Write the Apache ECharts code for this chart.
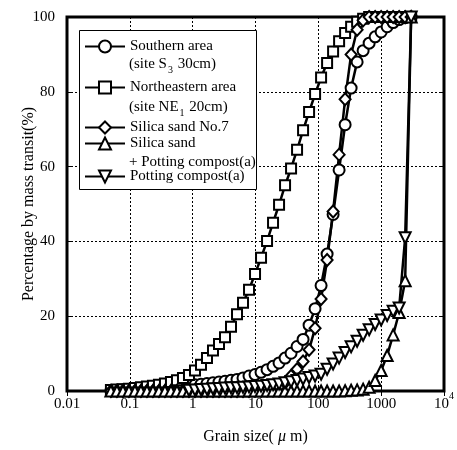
<!DOCTYPE html>
<html>
<head>
<meta charset="utf-8">
<script src="https://cdn.jsdelivr.net/npm/echarts@6/dist/echarts.min.js"></script>
<style>
  html, body { margin: 0; padding: 0; background: #fff; }
  #main { width: 457px; height: 450px; }
</style>
</head>
<body>
<div id="main"></div>
<script>
// grain size bins (µm)
const sizes = [0.050, 0.0623, 0.0777, 0.0968, 0.1206, 0.1502, 0.1873, 0.2333, 0.2907, 0.3623,
  0.4514, 0.5626, 0.7011, 0.8736, 1.089, 1.357, 1.690, 2.106, 2.625, 3.271,
  4.076, 5.080, 6.330, 7.888, 9.831, 12.25, 15.27, 19.02, 23.71, 29.54,
  36.81, 45.87, 57.17, 71.24, 88.77, 110.6, 137.9, 171.8, 214.1, 266.8,
  332.5, 414.3, 516.3, 643.4, 801.8, 999.0, 1245, 1551, 1933, 2409, 3000]

// percentage passing (%)
const southern = [0.1, 0.2, 0.3, 0.4, 0.5, 0.6, 0.7, 0.8, 0.9, 1.0,
  1.1, 1.2, 1.35, 1.5, 1.65, 1.8, 2.0, 2.2, 2.4, 2.6,
  2.85, 3.1, 3.5, 4.0, 4.4, 5.0, 5.7, 6.6, 7.5, 8.8,
  10.1, 11.9, 13.8, 17.6, 22.0, 28.2, 36.6, 47.2, 59.1, 71.2,
  81, 88, 91, 93, 94.7, 96, 97.4, 98.5, 99.3, 99.8, 100]
const northeastern = [0.3, 0.4, 0.5, 0.6, 0.8, 1.0, 1.2, 1.4, 1.7, 2.0,
  2.4, 2.9, 3.5, 4.3, 5.5, 7.0, 8.8, 10.8, 12.6, 14.4,
  17.2, 20.5, 23.6, 27.1, 31.3, 35.6, 40.1, 45.0, 49.8, 55.0,
  59.5, 64.5, 69.7, 74.6, 79.4, 83.8, 87.7, 90.8, 93.5, 95.7,
  97.4, 98.7, 99.5, 100, 100, 100, 100, 100, 100, 100, 100]
const silicaNo7 = [0, 0, 0, 0, 0, 0, 0, 0, 0, 0,
  0, 0, 0, 0, 0, 0, 0, 0, 0, 0,
  0, 0, 0, 0, 0.1, 0.15, 0.3, 0.6, 1.2, 2.3,
  4.0, 5.8, 7.9, 11.0, 16.8, 24.6, 35.0, 48.0, 63.2, 78.0,
  90.0, 96.6, 99.1, 100, 100, 100, 100, 100, 100, 100, 100]
const silicaCompost = [0, 0, 0, 0, 0, 0, 0, 0, 0, 0,
  0, 0, 0, 0, 0, 0, 0, 0, 0, 0,
  0, 0, 0, 0, 0, 0, 0, 0, 0, 0,
  0, 0, 0, 0, 0, 0, 0, 0, 0, 0.1,
  0.2, 0.3, 0.5, 1.0, 2.8, 5.5, 9.5, 15.0, 21.0, 29.5, 100]
const compost = [null, null, null, null, null, null, null, null, null, null,
  null, null, null, 0.2, 0.3, 0.4, 0.5, 0.6, 0.7, 0.8,
  0.85, 0.9, 1.0, 1.1, 1.2, 1.3, 1.5, 1.7, 1.9, 2.2,
  2.5, 2.8, 3.2, 3.6, 4.0, 4.5, 5.8, 7.2, 8.8, 10.3,
  11.8, 13.3, 14.9, 16.4, 17.8, 19.0, 20.2, 21.3, 22.2, 41, 100]

const FONT = '"Liberation Serif", "Times New Roman", serif'
const xLabels = { 0.01: '0.01', 0.1: '0.1', 1: '1', 10: '10', 100: '100', 1000: '1000', 10000: '{b|10}{s|4}' }

const chart = echarts.init(document.getElementById('main'))

// 折线 + 空心标记
const makeSeries = (name, vals, symbol, size, rotate) => ({
  name,
  type: 'line',
  data: sizes.map((s, i) => [s, vals[i]]).filter(p => p[1] != null),
  symbol,
  symbolSize: size,
  symbolRotate: rotate || 0,
  showAllSymbol: true,
  lineStyle: { color: '#000', width: 2.5 },
  itemStyle: { color: '#fff', borderColor: '#000', borderWidth: 2 },
  emphasis: { disabled: true }
})

// 图例每行单独放
const legendRow = (name, top) => ({
  data: [name],
  left: 84,
  top,
  padding: 0,
  itemWidth: 40,
  itemHeight: 15,
  selectedMode: false,
  textStyle: { fontFamily: FONT, fontSize: 15, color: '#000' },
  z: 6
})

const subText = (text, y) => ({
  type: 'text',
  x: 129,
  y,
  z: 7,
  style: {
    text,
    fontFamily: FONT,
    fontSize: 15,
    fill: '#000',
    verticalAlign: 'middle',
    rich: {
      sub: { fontFamily: FONT, fontSize: 10, verticalAlign: 'bottom', lineHeight: 22, padding: [0, 1, 0, 1] }
    }
  }
})

const option = {
  animation: false,
  backgroundColor: '#fff',
  grid: {
    left: 67, right: 12, top: 17, bottom: 55,
    show: true, borderColor: '#000', borderWidth: 3
  },
  xAxis: [{
    type: 'log',
    logBase: 10,
    min: 0.01,
    max: 10000,
    name: 'Grain size( {i|μ} m)',
    nameLocation: 'middle',
    nameGap: 38,
    nameMoveOverlap: false,
    nameTextStyle: {
      fontFamily: FONT, fontSize: 16, color: '#000',
      rich: { i: { fontFamily: FONT, fontSize: 16, fontStyle: 'italic', color: '#000' } }
    },
    axisLine: { show: false },
    axisTick: { show: true, inside: true, length: 5, lineStyle: { color: '#000' } },
    axisLabel: {
      fontFamily: FONT, fontSize: 15, color: '#000',
      margin: 13, verticalAlign: 'middle',
      formatter: v => xLabels[v] || '',
      rich: {
        b: { fontFamily: FONT, fontSize: 15, color: '#000', lineHeight: 26 },
        s: { fontFamily: FONT, fontSize: 10, color: '#000', verticalAlign: 'top' }
      }
    },
    splitLine: { show: true, lineStyle: { color: '#000', type: [2, 2], width: 1 } }
  }, {
    type: 'log',
    logBase: 10,
    min: 0.01,
    max: 10000,
    position: 'top',
    axisLine: { show: false },
    axisTick: { show: true, inside: true, length: 5, lineStyle: { color: '#000' } },
    axisLabel: { show: false },
    splitLine: { show: false }
  }],
  yAxis: [{
    type: 'value',
    min: 0,
    max: 100,
    interval: 20,
    name: 'Percentage by mass transit(%)',
    nameLocation: 'middle',
    nameGap: 30,
    nameMoveOverlap: false,
    nameTextStyle: { fontFamily: FONT, fontSize: 16, color: '#000' },
    axisLine: { show: false },
    axisTick: { show: true, inside: true, length: 5, lineStyle: { color: '#000' } },
    axisLabel: { fontFamily: FONT, fontSize: 15, color: '#000', margin: 12 },
    splitLine: { show: true, lineStyle: { color: '#000', type: [2, 2], width: 1 } }
  }, {
    type: 'value',
    min: 0,
    max: 100,
    interval: 20,
    position: 'right',
    axisLine: { show: false },
    axisTick: { show: true, inside: true, length: 5, lineStyle: { color: '#000' } },
    axisLabel: { show: false },
    splitLine: { show: false }
  }],
  legend: [
    legendRow('Southern area', 39),
    legendRow('Northeastern area', 80),
    legendRow('Silica sand No.7', 120),
    legendRow('Silica sand', 136),
    legendRow('Potting compost(a)', 169)
  ],
  graphic: [
    {
      type: 'rect',
      z: 5,
      shape: { x: 79.5, y: 30.5, width: 177, height: 159 },
      style: { fill: '#fff', stroke: '#000', lineWidth: 1 }
    },
    subText('(site S{sub|3} 30cm)', 64),
    subText('(site NE{sub|1} 20cm)', 107),
    subText('+ Potting compost(a)', 162)
  ],
  series: [
    makeSeries('Southern area', southern, 'circle', 11),
    makeSeries('Northeastern area', northeastern, 'rect', 10),
    makeSeries('Silica sand No.7', silicaNo7, 'diamond', [11, 12]),
    makeSeries('Silica sand', silicaCompost, 'triangle', 11),
    makeSeries('Potting compost(a)', compost, 'triangle', 11, 180)
  ]
}

chart.setOption(option)
</script>
</body>
</html>
